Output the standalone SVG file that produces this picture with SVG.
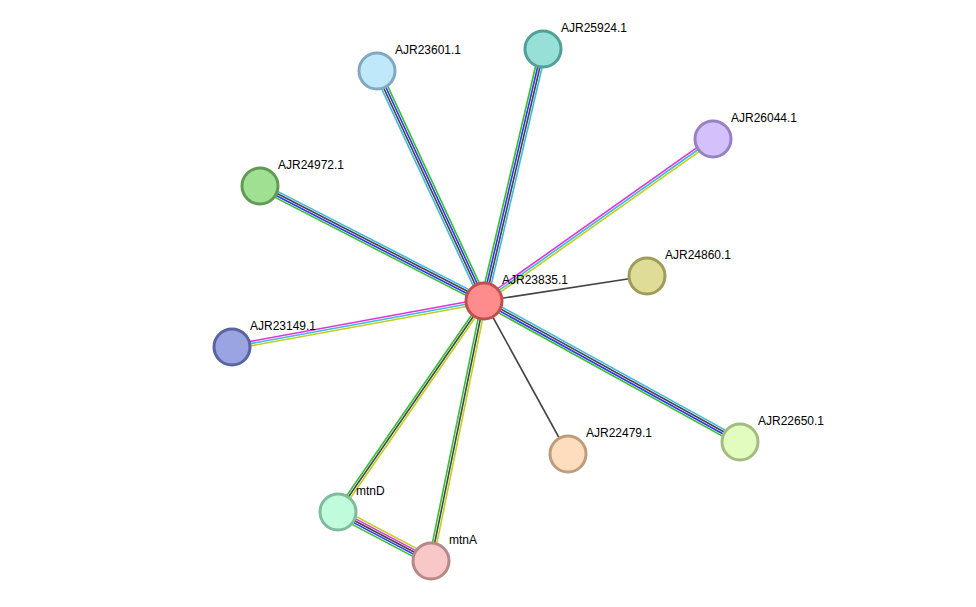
<svg xmlns="http://www.w3.org/2000/svg" width="976" height="607" viewBox="0 0 976 607">
<style>
line{stroke-width:1.6;fill:none}
.c{stroke:#3fb8e0}.k{stroke:#444}.b{stroke:#3333ee}.g{stroke:#33c033}.m{stroke:#dd33dd}.y{stroke:#bcd020}
circle{stroke-width:3}
text{font-family:"Liberation Sans",Arial,sans-serif;font-size:12px;fill:#000}
</style>
<rect width="976" height="607" fill="#fff"/>
<g id="connectors">
<g><line class="c" x1="481" y1="302.4" x2="374" y2="72.4"/><line class="k" x1="483" y1="301.5" x2="376" y2="71.5"/><line class="b" x1="485" y1="300.5" x2="378" y2="70.5"/><line class="g" x1="487" y1="299.6" x2="380" y2="69.6"/></g>
<g><line class="g" x1="480.8" y1="300.3" x2="539.8" y2="48.3"/><line class="b" x1="482.9" y1="300.8" x2="541.9" y2="48.8"/><line class="k" x1="485.1" y1="301.3" x2="544.1" y2="49.3"/><line class="c" x1="487.2" y1="301.8" x2="546.2" y2="49.8"/></g>
<g><line class="c" x1="485.5" y1="298.1" x2="261.5" y2="183.1"/><line class="k" x1="484.5" y1="300" x2="260.5" y2="185"/><line class="b" x1="483.5" y1="302" x2="259.5" y2="187"/><line class="g" x1="482.5" y1="303.9" x2="258.5" y2="188.9"/></g>
<g><line class="c" x1="485.6" y1="298.1" x2="741.6" y2="439.1"/><line class="k" x1="484.5" y1="300" x2="740.5" y2="441"/><line class="b" x1="483.5" y1="302" x2="739.5" y2="443"/><line class="g" x1="482.4" y1="303.9" x2="738.4" y2="444.9"/></g>
<g><line class="m" x1="482.7" y1="299.2" x2="711.7" y2="137.2"/><line class="c" x1="484" y1="301" x2="713" y2="139"/><line class="y" x1="485.3" y1="302.8" x2="714.3" y2="140.8"/></g>
<g><line class="m" x1="483.6" y1="298.8" x2="231.6" y2="344.8"/><line class="c" x1="484" y1="301" x2="232" y2="347"/><line class="y" x1="484.4" y1="303.2" x2="232.4" y2="349.2"/></g>
<line class="k" x1="484" y1="301" x2="647" y2="276"/>
<line class="k" x1="484" y1="301" x2="568" y2="454"/>
<g><line class="g" x1="482.2" y1="299.8" x2="336.2" y2="510.8"/><line class="k" x1="484" y1="301" x2="338" y2="512"/><line class="y" x1="485.8" y1="302.3" x2="339.8" y2="513.3"/></g>
<g><line class="g" x1="481.8" y1="300.6" x2="428.8" y2="560.6"/><line class="k" x1="484" y1="301" x2="431" y2="561"/><line class="y" x1="486.2" y1="301.4" x2="433.2" y2="561.4"/></g>
<g><line class="y" x1="340" y1="508.1" x2="433" y2="557.1"/><line class="m" x1="339" y1="510.1" x2="432" y2="559.1"/><line class="k" x1="338" y1="512" x2="431" y2="561"/><line class="b" x1="337" y1="513.9" x2="430" y2="562.9"/><line class="g" x1="336" y1="515.9" x2="429" y2="564.9"/></g>
</g>
<g id="n-AJR23601.1"><circle cx="377" cy="71" r="18" fill="#c0e8fb" stroke="#80a8c0"/><text x="395" y="54">AJR23601.1</text></g>
<g id="n-AJR25924.1"><circle cx="543" cy="49" r="18" fill="#96e0d8" stroke="#50a098"/><text x="561" y="32">AJR25924.1</text></g>
<g id="n-AJR26044.1"><circle cx="713" cy="139" r="18" fill="#d4c0fa" stroke="#9880c4"/><text x="731" y="122">AJR26044.1</text></g>
<g id="n-AJR24972.1"><circle cx="260" cy="186" r="18" fill="#a0e092" stroke="#609a54"/><text x="278" y="169">AJR24972.1</text></g>
<g id="n-AJR24860.1"><circle cx="647" cy="276" r="18" fill="#dedc96" stroke="#9e9c56"/><text x="665" y="259">AJR24860.1</text></g>
<g id="n-AJR23149.1"><circle cx="232" cy="347" r="18" fill="#9aa4e2" stroke="#5a64a2"/><text x="250" y="330">AJR23149.1</text></g>
<g id="n-AJR22650.1"><circle cx="740" cy="442" r="18" fill="#e2fcc0" stroke="#a2bc80"/><text x="758" y="425">AJR22650.1</text></g>
<g id="n-AJR22479.1"><circle cx="568" cy="454" r="18" fill="#fedcbe" stroke="#be9c7e"/><text x="586" y="437">AJR22479.1</text></g>
<g id="n-mtnD"><circle cx="338" cy="512" r="18" fill="#c0fcdc" stroke="#80bc9c"/><text x="356" y="495">mtnD</text></g>
<g id="n-mtnA"><circle cx="431" cy="561" r="18" fill="#f8c8c8" stroke="#b88888"/><text x="449" y="544">mtnA</text></g>
<g id="n-AJR23835.1"><circle cx="484" cy="301" r="18" fill="#ff8c8c" stroke="#c05050"/><text x="502" y="284">AJR23835.1</text></g>
</svg>
